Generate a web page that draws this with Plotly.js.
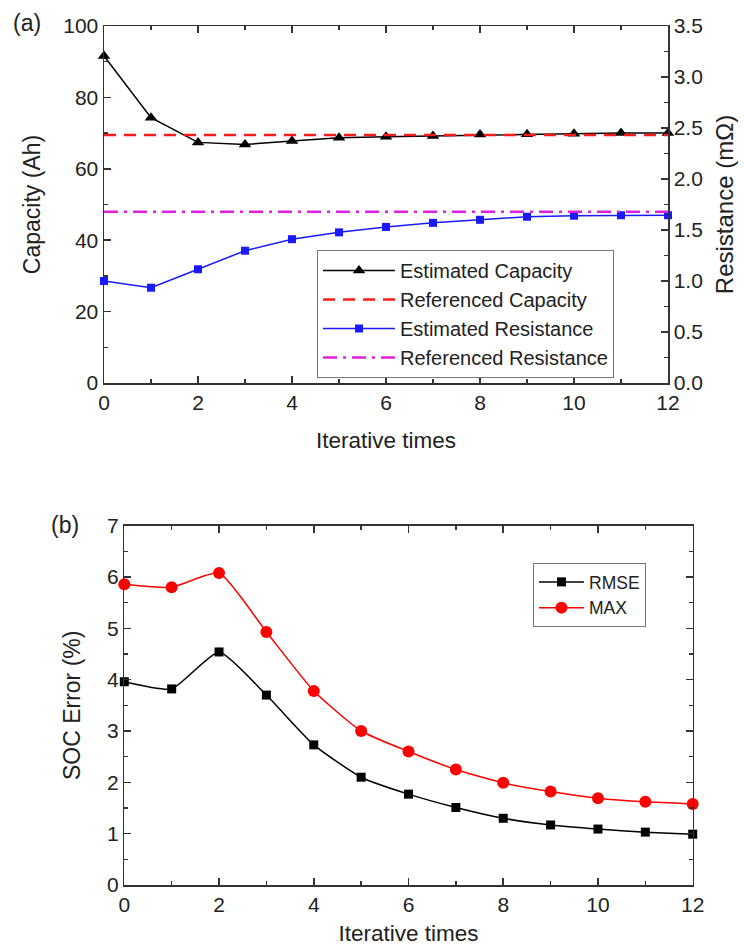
<!DOCTYPE html>
<html><head><meta charset="utf-8">
<script src="https://cdn.plot.ly/plotly-3.0.1.min.js"></script>
<style>html,body{margin:0;padding:0;background:#fff}</style>
</head><body><div id="chart" style="width:744px;height:949px"></div>
<script>
// ---- data ----
const iterations = [0,1,2,3,4,5,6,7,8,9,10,11,12];
const estimatedCapacity = [91.6,74.3,67.4,66.8,67.8,68.7,69.0,69.2,69.6,69.7,69.8,70.0,70.0];
const referencedCapacity = 69.5;
const estimatedResistance = [1.00,0.934,1.115,1.297,1.41,1.477,1.53,1.57,1.60,1.63,1.64,1.645,1.645];
const referencedResistance = 1.68;
const rmse = [3.96,3.82,4.54,3.70,2.73,2.10,1.77,1.51,1.30,1.17,1.09,1.03,0.99];
const maxErr = [5.86,5.80,6.08,4.93,3.78,3.00,2.60,2.25,1.99,1.82,1.69,1.62,1.58];

const W = 744, H = 949;
const FONT = 'Liberation Sans, Arial, sans-serif';
const xEnds = [iterations[0], iterations[iterations.length-1]];

const traces = [
  {x: iterations, y: estimatedCapacity, name: 'Estimated Capacity', mode: 'lines+markers',
   line: {color: '#000', width: 1.5}, marker: {symbol: 'triangle-up', size: 11, color: '#000'},
   xaxis: 'x', yaxis: 'y', cliponaxis: false, legend: 'legend'},
  {x: xEnds, y: [referencedCapacity, referencedCapacity], name: 'Referenced Capacity', mode: 'lines',
   line: {color: '#ff1a1a', width: 2.5, dash: '12px,8px'}, xaxis: 'x', yaxis: 'y', legend: 'legend'},
  {x: iterations, y: estimatedResistance, name: 'Estimated Resistance', mode: 'lines+markers',
   line: {color: '#1a1aff', width: 1.5}, marker: {symbol: 'square', size: 8, color: '#1a1aff'},
   xaxis: 'x', yaxis: 'y2', cliponaxis: false, legend: 'legend'},
  {x: xEnds, y: [referencedResistance, referencedResistance], name: 'Referenced Resistance', mode: 'lines',
   line: {color: '#e020e0', width: 2.5, dash: '14px,6px,3px,6px'}, xaxis: 'x', yaxis: 'y2', legend: 'legend'},
  {x: iterations, y: rmse, name: 'RMSE', mode: 'lines+markers',
   line: {color: '#000', width: 1.5, shape: 'spline', smoothing: 0.5}, marker: {symbol: 'square', size: 9, color: '#000'},
   xaxis: 'x2', yaxis: 'y3', cliponaxis: false, legend: 'legend2'},
  {x: iterations, y: maxErr, name: 'MAX', mode: 'lines+markers',
   line: {color: '#ff0000', width: 1.5, shape: 'spline', smoothing: 0.5}, marker: {symbol: 'circle', size: 12, color: '#ff0000'},
   xaxis: 'x2', yaxis: 'y3', cliponaxis: false, legend: 'legend2'}
];

function ax(extra) {
  return Object.assign({
    showline: true, linecolor: '#333', linewidth: 1.5,
    ticks: 'inside', ticklen: 7, tickwidth: 1.5, tickcolor: '#333',
    showgrid: false, zeroline: false,
    tickfont: {size: 21, color: '#222', family: FONT},
    fixedrange: true
  }, extra);
}
const minorStyle = {ticks: 'inside', ticklen: 4, tickwidth: 1.5, tickcolor: '#333', showgrid: false};

const layout = {
  width: W, height: H,
  margin: {l: 0, r: 0, t: 0, b: 0},
  paper_bgcolor: '#fff', plot_bgcolor: '#fff',
  font: {family: FONT, color: '#222'},
  showlegend: true,
  xaxis: ax({domain: [104/W, 668/W], anchor: 'y', range: [0, 12], dtick: 2, tick0: 0,
    mirror: 'ticks', minor: Object.assign({dtick: 1}, minorStyle),
    title: {text: 'Iterative times', font: {size: 22.5}, standoff: 19}}),
  yaxis: ax({domain: [1-383/H, 1-26/H], anchor: 'x', range: [0, 100], dtick: 20, tick0: 0,
    minor: Object.assign({dtick: 10}, minorStyle),
    title: {text: 'Capacity (Ah)', font: {size: 23}, standoff: 16}}),
  yaxis2: ax({overlaying: 'y', side: 'right', anchor: 'x', range: [0, 3.5], dtick: 0.5, tick0: 0,
    tickformat: '.1f', minor: Object.assign({dtick: 0.25}, minorStyle),
    title: {text: 'Resistance (mΩ)', font: {size: 24}, standoff: 14}}),
  xaxis2: ax({domain: [124.3/W, 692.7/W], anchor: 'y3', range: [0, 12], dtick: 2, tick0: 0,
    mirror: 'ticks', minor: Object.assign({dtick: 1}, minorStyle),
    title: {text: 'Iterative times', font: {size: 22.5}, standoff: 10}}),
  yaxis3: ax({domain: [1-885/H, 1-525.7/H], anchor: 'x2', range: [0, 7], dtick: 1, tick0: 0,
    mirror: 'ticks', minor: Object.assign({dtick: 0.5}, minorStyle),
    title: {text: 'SOC Error (%)', font: {size: 23}, standoff: 20}}),
  legend: {x: 317/W, y: 1-250/H, xanchor: 'left', yanchor: 'top',
    bgcolor: '#fff', bordercolor: '#777', borderwidth: 1,
    font: {size: 20, family: FONT, color: '#222'}, itemwidth: 72, tracegroupgap: 0},
  legend2: {x: 533/W, y: 1-563/H, xanchor: 'left', yanchor: 'top',
    bgcolor: '#fff', bordercolor: '#777', borderwidth: 1,
    font: {size: 17.5, family: FONT, color: '#222'}, itemwidth: 45, tracegroupgap: 0},
  annotations: [
    {text: '(a)', x: 27/W, y: 1-23/H, xref: 'paper', yref: 'paper', showarrow: false,
     xanchor: 'center', yanchor: 'middle', font: {size: 23, family: FONT, color: '#222'}},
    {text: '(b)', x: 65/W, y: 1-525/H, xref: 'paper', yref: 'paper', showarrow: false,
     xanchor: 'center', yanchor: 'middle', font: {size: 23, family: FONT, color: '#222'}}
  ]
};

Plotly.newPlot('chart', traces, layout, {displayModeBar: false, staticPlot: true});
</script>
</body></html>
